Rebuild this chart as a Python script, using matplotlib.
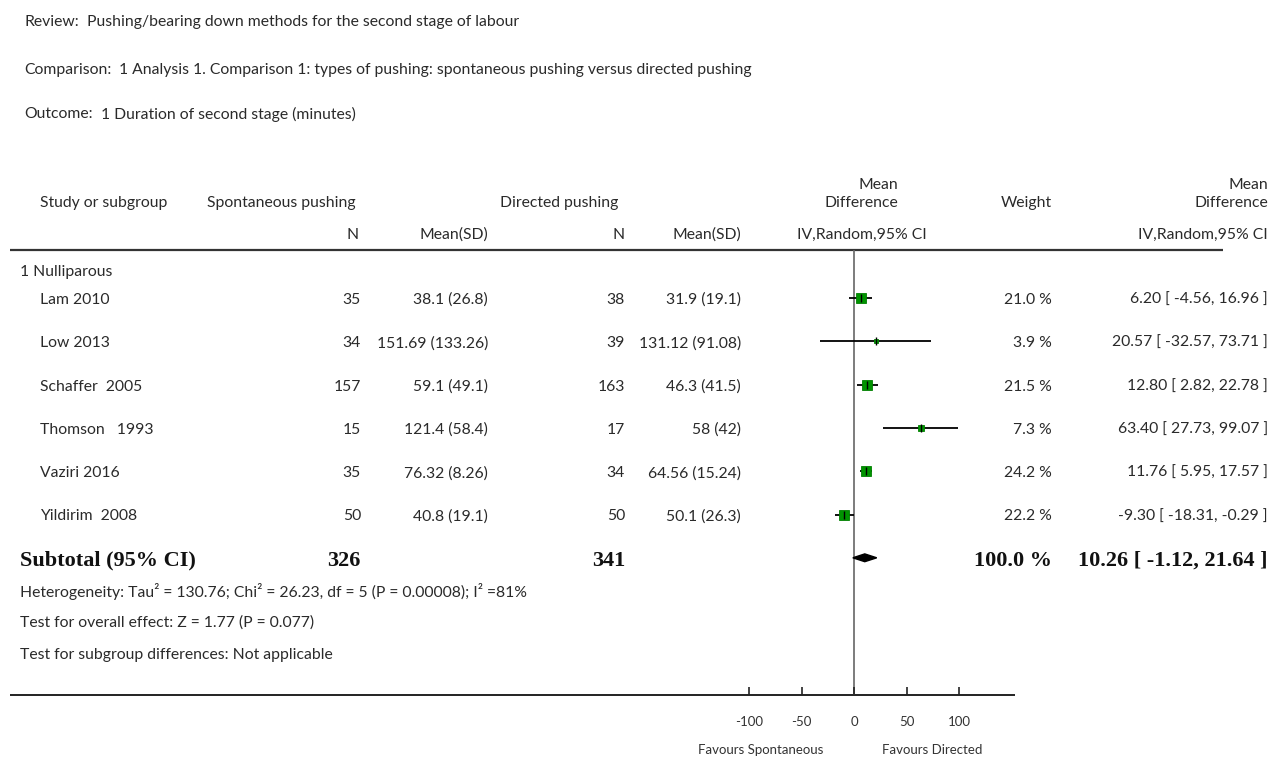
import numpy as np
import matplotlib
matplotlib.use("Agg")
import matplotlib.pyplot as plt
from matplotlib.patches import Polygon

# ---- data -------------------------------------------------------------
studies = ["Lam 2010", "Low 2013", "Schaffer  2005", "Thomson   1993",
           "Vaziri 2016", "Yildirim  2008"]
sp_n = [35, 34, 157, 15, 35, 50]
sp_mean = [38.1, 151.69, 59.1, 121.4, 76.32, 40.8]
sp_sd = [26.8, 133.26, 49.1, 58.4, 8.26, 19.1]
dr_n = [38, 39, 163, 17, 34, 50]
dr_mean = [31.9, 131.12, 46.3, 58, 64.56, 50.1]
dr_sd = [19.1, 91.08, 41.5, 42, 15.24, 26.3]
weights = [21.0, 3.9, 21.5, 7.3, 24.2, 22.2]
md = [6.20, 20.57, 12.80, 63.40, 11.76, -9.30]
ci_lo = [-4.56, -32.57, 2.82, 27.73, 5.95, -18.31]
ci_hi = [16.96, 73.71, 22.78, 99.07, 17.57, -0.29]

sub_n_sp, sub_n_dr = 326, 341
sub_weight = 100.0
sub_md, sub_lo, sub_hi = 10.26, -1.12, 21.64

x_ticks = [-100, -50, 0, 50, 100]
x_ticklabels = ["-100", "-50", "0", "50", "100"]

# ---- layout -----------------------------------------------------------
W, H = 1273, 758
fig = plt.figure(figsize=(W / 100, H / 100), dpi=100)
fig.patch.set_facecolor("white")
renderer = fig.canvas.get_renderer()

FONT = "Lato"
SERIF = "Liberation Serif"
TXT = "#2a2a2a"
BOLD_C = "#111111"
FS = 11.3
FSB = 16

ov = fig.add_axes([0, 0, 1, 1])
ov.set_xlim(0, W)
ov.set_ylim(H, 0)
ov.axis("off")

def t(x, y, s, ha="left", size=FS, family=FONT, weight="normal", color=TXT):
    return ov.text(x, y, s, ha=ha, va="center", fontsize=size, family=family,
                   fontweight=weight, color=color)

def labelled(x, y, label, value, value_x):
    lab = t(x, y, label)
    right = lab.get_window_extent(renderer).x1
    t(max(value_x, right + 8), y, value)

# Title block
labelled(24, 22, "Review:", "Pushing/bearing down methods for the second stage of labour", 68)
labelled(24, 70, "Comparison:",
         "1 Analysis 1. Comparison 1: types of pushing: spontaneous pushing versus directed pushing", 104)
labelled(24, 114, "Outcome:", "1 Duration of second stage (minutes)", 78)

# Column headers
t(40, 203, "Study or subgroup")
t(207, 203, "Spontaneous pushing")
t(500, 203, "Directed pushing")
t(898, 185, "Mean", ha="right")
t(898, 203, "Difference", ha="right")
t(1052, 203, "Weight", ha="right")
t(1268, 185, "Mean", ha="right")
t(1268, 203, "Difference", ha="right")
t(359, 235, "N", ha="right")
t(488, 235, "Mean(SD)", ha="right")
t(625, 235, "N", ha="right")
t(741, 235, "Mean(SD)", ha="right")
t(862, 235, "IV,Random,95% CI", ha="center")
t(1268, 235, "IV,Random,95% CI", ha="right")

ov.plot([10, 1223], [250, 250], color="#333333", lw=1.6, solid_capstyle="butt")
ov.plot([10, 1015], [695, 695], color="#222222", lw=1.4, solid_capstyle="butt")

# Study rows
row0, step = 298, 43.3
t(20, 272, "1 Nulliparous")
for i, name in enumerate(studies):
    y = row0 + step * i + 2
    t(40, y, name)
    t(361, y, f"{sp_n[i]}", ha="right")
    t(488, y, f"{sp_mean[i]:g} ({sp_sd[i]:g})", ha="right")
    t(625, y, f"{dr_n[i]}", ha="right")
    t(741, y, f"{dr_mean[i]:g} ({dr_sd[i]:g})", ha="right")
    t(1052, y, f"{weights[i]:.1f} %", ha="right")
    t(1268, y, f"{md[i]:.2f} [ {ci_lo[i]:.2f}, {ci_hi[i]:.2f} ]", ha="right")

ys = row0 + step * len(studies) + 3
t(20, ys, "Subtotal (95% CI)", family=SERIF, weight="bold", size=FSB, color=BOLD_C)
t(361, ys, f"{sub_n_sp}", ha="right", family=SERIF, weight="bold", size=FSB, color=BOLD_C)
t(625, ys, f"{sub_n_dr}", ha="right", family=SERIF, weight="bold", size=FSB, color=BOLD_C)
t(1052, ys, f"{sub_weight:.1f} %", ha="right", family=SERIF, weight="bold", size=FSB, color=BOLD_C)
t(1268, ys, f"{sub_md:.2f} [ {sub_lo:.2f}, {sub_hi:.2f} ]", ha="right",
  family=SERIF, weight="bold", size=FSB, color=BOLD_C)

t(20, 592, "Heterogeneity: Tau² = 130.76; Chi² = 26.23, df = 5 (P = 0.00008); I² =81%")
t(20, 623, "Test for overall effect: Z = 1.77 (P = 0.077)")
t(20, 655, "Test for subgroup differences: Not applicable")

# ---- forest panel -----------------------------------------------------
px_left, px_right = 749, 959
px_top, px_bot = 250, 695
fa = fig.add_axes([px_left / W, (H - px_bot) / H,
                   (px_right - px_left) / W, (px_bot - px_top) / H])
fa.set_xlim(-100, 100)
fa.set_ylim((px_bot - row0) / step, (px_top - row0) / step)
fa.patch.set_alpha(0)
for s in fa.spines.values():
    s.set_visible(False)
fa.set_yticks([])
fa.set_xticks(x_ticks)
fa.set_xticklabels(x_ticklabels, fontsize=9.5, family=FONT, color="#333333")
fa.tick_params(axis="x", direction="in", length=6, width=1.2, color="#222222", pad=15)

fa.axvline(0, color="#666666", lw=1.2, zorder=1)

for i in range(len(studies)):
    fa.plot([ci_lo[i], ci_hi[i]], [i, i], color="black", lw=1.3, zorder=2,
            solid_capstyle="butt")
    side = 2.1 * np.sqrt(weights[i]) * 0.72  # marker size in points
    fa.plot(md[i], i, marker="s", ms=side, mfc="#009400", mec="#008000",
            mew=0.6, zorder=3, linestyle="none")
    fa.plot(md[i], i, marker="|", ms=6, mec="black", mew=1.0, zorder=4,
            linestyle="none")

yd = len(studies)
dh = 0.09
diamond = Polygon([[sub_lo, yd], [sub_md, yd - dh], [sub_hi, yd], [sub_md, yd + dh]],
                  closed=True, facecolor="black", edgecolor="black", zorder=3)
fa.add_patch(diamond)

t(761, 750, "Favours Spontaneous", ha="center", size=9.5, color="#333333")
t(932, 750, "Favours Directed", ha="center", size=9.5, color="#333333")

fig.savefig("out.png", dpi=100)
